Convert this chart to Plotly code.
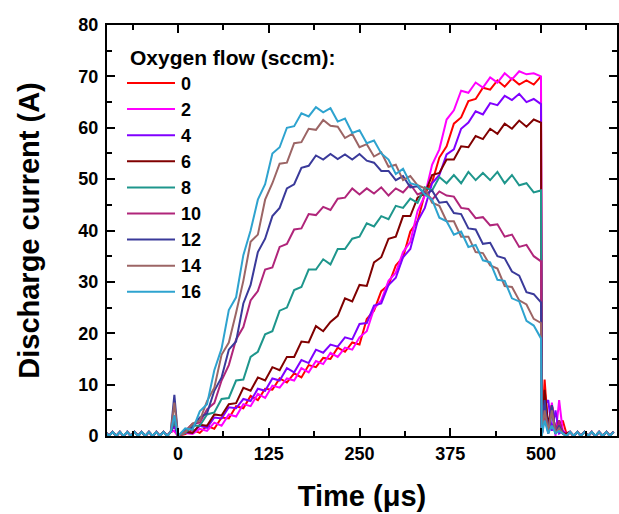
import plotly.graph_objects as go

# ---------------- data ----------------
FLOWS = ["0", "2", "4", "6", "8", "10", "12", "14", "16"]
COLORS = ["#FF0000", "#FF00FF", "#8000FF", "#800000", "#1E968C",
          "#B0257A", "#3A3A9A", "#9C6565", "#2EA3CF"]
LEGEND_TITLE = "Oxygen flow (sccm):"

# time axis pieces (µs)
T_PRE = [-100, -95, -90, -85, -80, -75, -70, -65, -60, -55, -50, -45, -40,
         -35, -30, -25, -20, -15, -10]
T_SPIKE = [-5]
T_MAIN = [0, 10, 20, 30, 40, 50, 60, 70, 80, 90, 100, 110, 120, 130, 140, 150,
          160, 170, 180, 190, 200, 210, 220, 230, 240, 250, 260, 270, 280, 290,
          300, 310, 320, 330, 340, 350, 360, 370, 380, 390, 400, 410, 420, 430,
          440, 450, 460, 470, 480, 490, 500]
T_POST = [501, 505, 510, 515, 520, 525, 530, 535]
T_TAIL = [540, 545, 550, 555, 560, 565, 570, 575, 580, 585, 590, 595, 600]

BASE_PRE = [0.8, 0, 0.8, 0, 0.8, 0, 0.8, 0, 0.8, 0, 0.8, 0, 0.8, 0, 0.8, 0,
            0.8, 0, 0.8]
BASE_TAIL = [0.8, 0, 0.8, 0, 0.8, 0, 0.8, 0, 0.8, 0, 0.8, 0, 0.8]

SPIKE = [1, 1, 2, 3, 3, 4, 8, 6.5, 4]

I_0 = [0, 0.4, 1.2, 0.6, 2.0, 1.4, 3.6, 3.4, 5.8, 5.4, 7.8, 7.0, 9.2, 9.0, 11.2,
       10.4, 12.2, 11.4, 13.8, 13.4, 15.2, 15.0, 17.2, 16.4, 18.2, 17.8, 22.8,
       24.4, 28.2, 29.4, 33.2, 34.8, 39.8, 41.8, 47.2, 49.4, 54.2, 56.4, 60.8,
       62.0, 65.2, 65.6, 67.8, 67.4, 69.2, 68.0, 69.6, 68.4, 69.2, 68.4, 70.0]
I_2 = [0, 0.6, 0.4, 1.4, 1.0, 2.6, 2.0, 4.2, 3.8, 6.2, 5.8, 8.2, 7.4, 9.8, 9.4,
       11.2, 10.8, 13.2, 12.4, 14.6, 14.0, 16.2, 15.4, 17.2, 16.8, 19.2, 20.4,
       24.8, 26.4, 30.2, 31.8, 35.8, 37.8, 43.8, 46.8, 52.8, 55.8, 61.6, 63.4,
       67.2, 66.8, 68.8, 67.8, 69.8, 68.8, 70.6, 69.4, 71.0, 70.4, 70.6, 70.0]
I_4 = [0, 0.8, 0.6, 2.0, 1.6, 3.6, 3.4, 5.6, 5.4, 7.2, 6.8, 9.2, 8.8, 11.2, 10.8,
       13.2, 12.4, 14.8, 14.2, 16.8, 16.2, 17.8, 17.4, 19.2, 18.8, 21.8, 22.0,
       25.4, 25.8, 29.4, 30.8, 34.8, 36.4, 41.8, 44.4, 49.2, 50.8, 54.8, 55.8,
       59.8, 61.0, 63.2, 62.6, 64.8, 64.4, 66.2, 65.4, 66.6, 65.0, 65.6, 64.6]
I_6 = [0, 0.8, 0.6, 2.2, 2.0, 4.2, 4.0, 6.2, 6.4, 9.4, 8.8, 11.4, 10.8, 13.4,
       12.8, 15.4, 15.4, 18.4, 18.2, 21.4, 20.4, 22.2, 23.4, 26.8, 26.2, 29.4,
       29.2, 33.8, 34.8, 38.4, 38.8, 42.8, 42.8, 46.4, 47.2, 50.8, 51.2, 53.8,
       53.8, 56.4, 56.2, 58.4, 57.8, 59.8, 58.8, 60.8, 59.8, 61.4, 60.2, 61.6,
       61.0]
I_8 = [0, 0.6, 2.0, 2.0, 4.2, 4.6, 7.2, 7.4, 10.8, 11.0, 15.4, 16.4, 19.8, 20.4,
       24.4, 25.0, 28.4, 29.0, 32.4, 32.4, 34.4, 33.4, 36.4, 36.4, 38.4, 38.8,
       41.4, 40.8, 42.8, 42.2, 44.8, 44.4, 46.2, 45.4, 48.4, 47.8, 50.4, 49.2,
       50.8, 49.2, 51.4, 49.8, 51.2, 49.8, 51.4, 49.2, 50.8, 48.8, 49.2, 47.4,
       47.8]
I_10 = [0, 1.0, 2.4, 2.6, 5.2, 6.4, 10.8, 13.8, 18.8, 21.2, 26.4, 28.2, 32.4,
        32.8, 36.8, 37.4, 40.2, 40.4, 43.2, 43.0, 44.6, 44.0, 46.2, 46.4, 48.2,
        47.0, 48.2, 47.2, 48.4, 46.8, 48.2, 47.4, 49.0, 47.0, 47.6, 46.0, 47.6,
        46.8, 46.6, 44.4, 44.2, 42.4, 42.6, 41.0, 41.2, 38.8, 39.2, 36.8, 37.2,
        35.0, 34.0]
I_12 = [0, 1.2, 1.6, 3.6, 4.4, 8.8, 11.4, 16.8, 18.4, 25.8, 29.4, 35.8, 38.4,
        42.8, 44.4, 48.2, 49.0, 52.2, 52.6, 54.6, 53.8, 54.9, 53.9, 54.8, 53.8,
        54.9, 53.6, 53.2, 51.6, 51.6, 49.8, 50.6, 48.4, 48.6, 47.0, 47.8, 45.4,
        45.6, 43.4, 43.2, 40.4, 40.2, 37.4, 37.6, 35.0, 34.6, 32.0, 31.2, 28.0,
        27.6, 26.0]
I_14 = [0, 0.8, 2.4, 3.0, 6.8, 9.4, 15.8, 18.2, 24.0, 30.2, 37.8, 39.2, 46.0,
        49.2, 53.0, 53.2, 57.0, 57.2, 59.8, 59.6, 61.5, 60.4, 60.2, 58.0, 58.8,
        56.2, 56.8, 54.4, 55.2, 52.4, 52.8, 49.8, 50.6, 48.8, 48.2, 45.4, 44.8,
        41.8, 41.8, 38.8, 38.8, 35.8, 35.6, 33.2, 32.6, 29.2, 29.0, 26.4, 25.6,
        22.8, 22.0]
I_16 = [0, 1.5, 1.2, 4.8, 6.2, 12.8, 17.0, 24.5, 27.0, 35.2, 40.0, 46.0, 49.0,
        55.0, 56.2, 60.0, 60.3, 62.8, 62.2, 64.0, 63.0, 63.8, 61.2, 61.8, 59.0,
        59.5, 57.0, 57.5, 55.0, 53.8, 51.0, 52.0, 49.2, 48.8, 47.0, 46.0, 42.5,
        41.8, 39.2, 39.8, 36.8, 37.2, 34.2, 33.8, 30.4, 30.2, 26.8, 26.2, 22.4,
        21.5, 19.0]
MAIN = [I_0, I_2, I_4, I_6, I_8, I_10, I_12, I_14, I_16]

POST = [
    [0, 11, 1, 6, 0.5, 2, 3, 0.5],
    [0, 4, 0.5, 6.5, 0, 7, 1, 0.5],
    [0, 6, 7, 1, 5, 0.5, 1, 0],
    [0, 9, 2, 6, 0.5, 3, 0.5, 0.5],
    [0, 6, 0.5, 5, 0.5, 2, 0.5, 0],
    [0, 5, 1, 6, 0.5, 3, 0.5, 0],
    [0, 7, 0.5, 6, 0.5, 2, 0.5, 0],
    [0, 5, 1, 5, 0.5, 1.5, 0.5, 0],
    [0, 3, 0.5, 2, 0.5, 1, 0.5, 0],
]

FONT = "Arial, 'Liberation Sans', sans-serif"
W, H = 619, 514
ML, MR, MT, MB = 107, 2, 25, 78
PW, PH = W - ML - MR, H - MT - MB


def px(x):
    return (x - ML) / PW


def py(y):
    return (H - MB - y) / PH


fig = go.Figure()
t_all = T_PRE + T_SPIKE + T_MAIN + T_POST + T_TAIL
for k, name in enumerate(FLOWS):
    y_all = BASE_PRE + [SPIKE[k]] + MAIN[k] + POST[k] + BASE_TAIL
    fig.add_trace(go.Scatter(
        x=t_all, y=y_all, mode="lines", name=name,
        line=dict(color=COLORS[k], width=2), showlegend=False,
    ))

# legend drawn as key (line samples + labels)
shapes = []
annotations = [dict(
    x=px(128), y=py(57), xref="paper", yref="paper",
    xanchor="left", yanchor="middle", showarrow=False,
    text=LEGEND_TITLE,
    font=dict(family=FONT, size=21, color="black", weight="bold"),
)]
for k, name in enumerate(FLOWS):
    yy = 83 + 26.1 * k
    shapes.append(dict(type="line", xref="paper", yref="paper",
                       x0=px(127), x1=px(175), y0=py(yy), y1=py(yy),
                       line=dict(color=COLORS[k], width=2)))
    annotations.append(dict(
        x=px(179), y=py(yy + 0.5), xref="paper", yref="paper",
        xanchor="left", yanchor="middle", showarrow=False, text=name,
        font=dict(family=FONT, size=18, color="black", weight="bold"),
    ))

axis_common = dict(
    showline=True, linecolor="black", linewidth=2, mirror="ticks",
    ticks="inside", tickcolor="black", tickwidth=2, ticklen=8,
    showgrid=False, zeroline=False, automargin=False,
    tickfont=dict(family=FONT, size=18, color="black", weight="bold"),
)

fig.update_xaxes(
    range=[-97.8, 604.7], tick0=0, dtick=125,
    minor=dict(ticks="inside", dtick=62.5, tick0=0, ticklen=5,
               tickwidth=2, tickcolor="black", showgrid=False),
    title=dict(text="Time (μs)", standoff=23,
               font=dict(family=FONT, size=29, color="black", weight="bold")),
    **axis_common,
)
fig.update_yaxes(
    range=[0, 80], tick0=0, dtick=10, ticklabelstandoff=3,
    minor=dict(ticks="inside", dtick=5, tick0=0, ticklen=5,
               tickwidth=2, tickcolor="black", showgrid=False),
    title=dict(text="Discharge current (A)", standoff=30,
               font=dict(family=FONT, size=29, color="black", weight="bold")),
    **axis_common,
)

fig.update_layout(
    width=W, height=H,
    margin=dict(l=ML, r=MR, t=MT, b=MB),
    plot_bgcolor="white", paper_bgcolor="white",
    showlegend=False,
    shapes=shapes, annotations=annotations,
)

fig.write_html("out.html",
               config={"displayModeBar": False},
               post_script="document.body.style.margin='0';"
                           "document.body.style.overflow='hidden';")
